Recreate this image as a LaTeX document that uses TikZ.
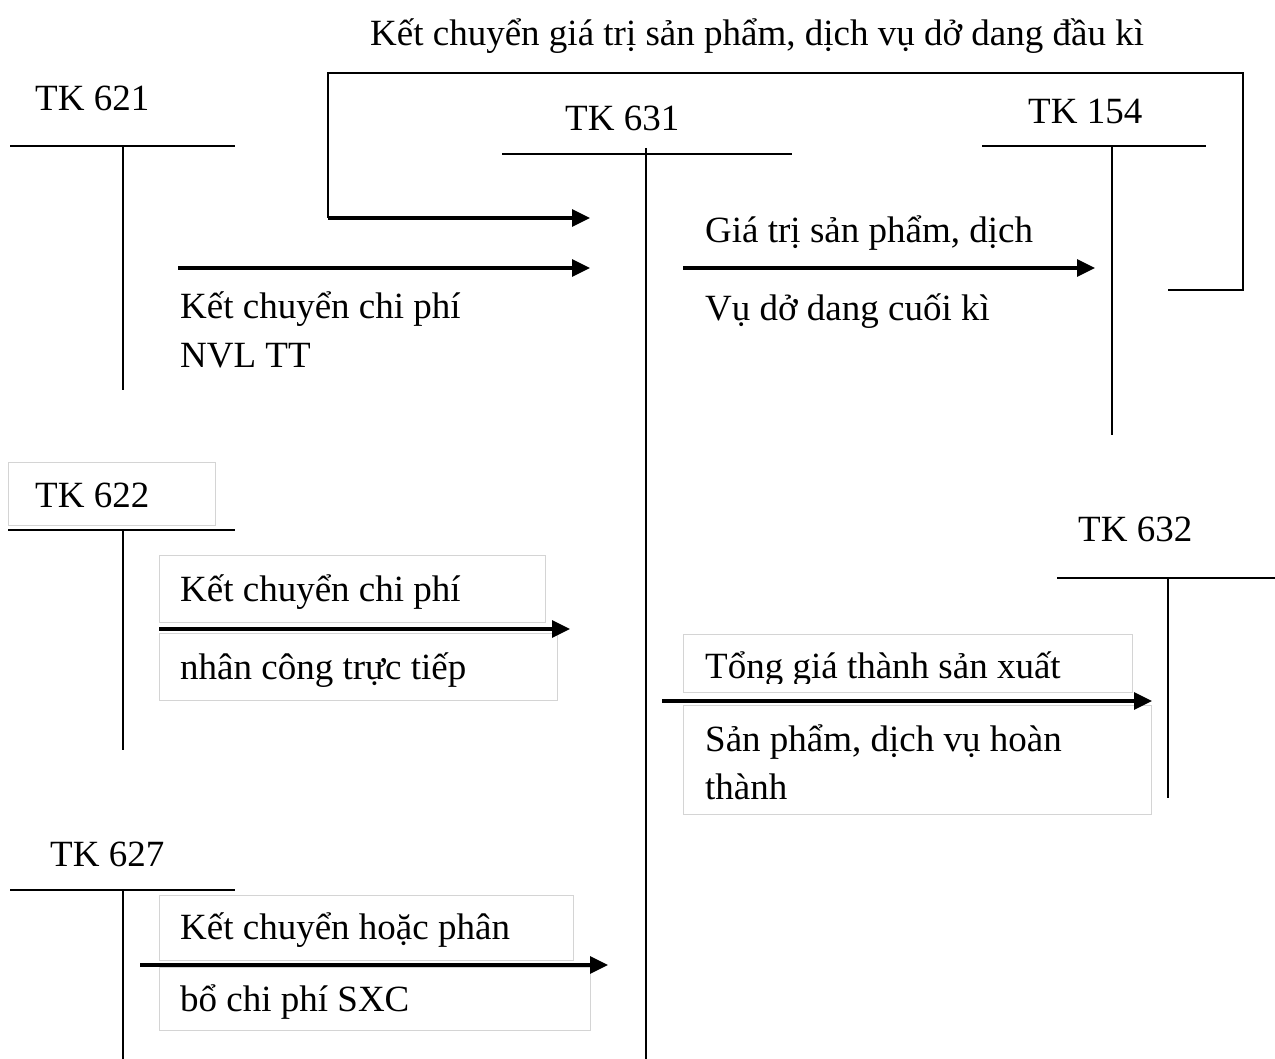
\documentclass[tikz,border=0pt]{standalone}
\usepackage{fontspec}
\setmainfont{Liberation Serif}
\usetikzlibrary{arrows.meta}
\begin{document}
\begin{tikzpicture}[x=1pt,y=-1pt,
  lbl/.style={anchor=base west,inner sep=0pt,font=\fontsize{37}{44}\selectfont},
  tline/.style={line width=2pt},
  flow/.style={line width=3.2pt,-{Triangle[length=18pt,width=17pt]}},
  faint/.style={draw=black!17,line width=1pt}]
\useasboundingbox[fill=white] (0,0) rectangle (1275,1059);

% faint frames around the labels
\draw[faint] (8,462) rectangle (215,525);
\draw[faint] (159,555) rectangle (545,622);
\draw[faint] (159,633) rectangle (557,700);
\draw[faint] (683,634) rectangle (1132,692);
\draw[faint] (683,705) rectangle (1151,814);
\draw[faint] (159,895) rectangle (573,960);
\draw[faint] (159,967) rectangle (590,1030);

% account titles
\node[lbl] (t621) at (35,111) {TK 621};
\node[lbl] (t631) at (565,131) {TK 631};
\node[lbl] (t154) at (1028,124) {TK 154};
\node[lbl] (t622) at (35,507) {TK 622};
\node[lbl] (t632) at (1078,541) {TK 632};
\node[lbl] (t627) at (50,866) {TK 627};

% T-accounts
\coordinate (a621l) at (10,146);  \coordinate (a621r) at (235,146);
\coordinate (a621t) at (123,146); \coordinate (a621b) at (123,390);
\draw[tline] (a621l) -- (a621r) (a621t) -- (a621b);

\coordinate (a631l) at (502,154); \coordinate (a631r) at (792,154);
\coordinate (a631t) at (646,148); \coordinate (a631b) at (646,1059);
\draw[tline] (a631l) -- (a631r) (a631t) -- (a631b);

\coordinate (a154l) at (982,146);  \coordinate (a154r) at (1206,146);
\coordinate (a154t) at (1112,146); \coordinate (a154b) at (1112,435);
\draw[tline] (a154l) -- (a154r) (a154t) -- (a154b);

\coordinate (a622l) at (8,530);   \coordinate (a622r) at (235,530);
\coordinate (a622t) at (123,530); \coordinate (a622b) at (123,750);
\draw[tline] (a622l) -- (a622r) (a622t) -- (a622b);

\coordinate (a632l) at (1057,578);  \coordinate (a632r) at (1275,578);
\coordinate (a632t) at (1168,578);  \coordinate (a632b) at (1168,798);
\draw[tline] (a632l) -- (a632r) (a632t) -- (a632b);

\coordinate (a627l) at (10,890);   \coordinate (a627r) at (235,890);
\coordinate (a627t) at (123,890);  \coordinate (a627b) at (123,1059);
\draw[tline] (a627l) -- (a627r) (a627t) -- (a627b);

% opening work in progress: TK 154 -> TK 631
\node[lbl] (lopen) at (370,46) {Kết chuyển giá trị sản phẩm, dịch vụ dở dang đầu kì};
\coordinate (o1) at (1168,290);
\coordinate (o2) at (1243,290);
\coordinate (o3) at (1243,73);
\coordinate (o4) at (328,73);
\coordinate (o5) at (328,218);
\coordinate (o6) at (590,218);
\draw[tline] (o1) -- (o2) -- (o3) -- (o4) -- (o5);
\draw[flow] (o5) -- (o6);

% TK 621 -> TK 631
\coordinate (f621s) at (178,268); \coordinate (f621e) at (590,268);
\draw[flow] (f621s) -- (f621e);
\node[lbl] (l621a) at (180,319) {Kết chuyển chi phí};
\node[lbl] (l621b) at (180,368) {NVL TT};

% TK 631 -> TK 154
\coordinate (f154s) at (683,268); \coordinate (f154e) at (1095,268);
\draw[flow] (f154s) -- (f154e);
\node[lbl] (l154a) at (705,243) {Giá trị sản phẩm, dịch};
\node[lbl] (l154b) at (705,321) {Vụ dở dang cuối kì};

% TK 622 -> TK 631
\coordinate (f622s) at (159,629); \coordinate (f622e) at (570,629);
\draw[flow] (f622s) -- (f622e);
\node[lbl] (l622a) at (180,601) {Kết chuyển chi phí};
\node[lbl] (l622b) at (180,679) {nhân công trực tiếp};

% TK 631 -> TK 632
\coordinate (f632s) at (662,701); \coordinate (f632e) at (1152,701);
\draw[flow] (f632s) -- (f632e);
\begin{scope}
  \clip (683,634) rectangle (1132,683);
  \node[lbl] (l632a) at (705,678) {Tổng giá thành sản xuất};
\end{scope}
\node[lbl] (l632b) at (705,751) {Sản phẩm, dịch vụ hoàn};
\node[lbl] (l632c) at (705,799) {thành};

% TK 627 -> TK 631
\coordinate (f627s) at (140,965); \coordinate (f627e) at (608,965);
\draw[flow] (f627s) -- (f627e);
\node[lbl] (l627a) at (180,939) {Kết chuyển hoặc phân};
\node[lbl] (l627b) at (180,1011) {bổ chi phí SXC};
\end{tikzpicture}
\end{document}
